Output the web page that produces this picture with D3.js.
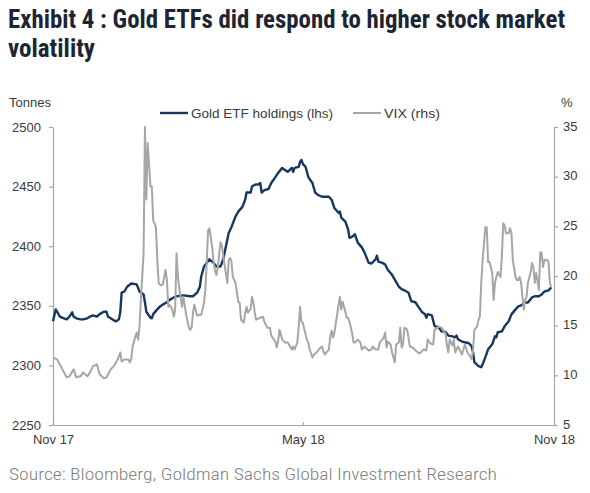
<!DOCTYPE html>
<html><head><meta charset="utf-8">
<script src="https://cdn.jsdelivr.net/npm/d3@7"></script>
<style>body{margin:0;background:#fff}svg{display:block}</style>
</head><body>
<svg id="chart" width="590" height="493"></svg>
<script>
// ---- DATA ----
const titleLines = ["Exhibit 4 : Gold ETFs did respond to higher stock market", "volatility"];
const sourceText = "Source: Bloomberg, Goldman Sachs Global Investment Research";
const seriesNames = ["Gold ETF holdings (lhs)", "VIX (rhs)"];
const leftAxisTitle = "Tonnes";
const rightAxisTitle = "%";
const leftTicks = [2250, 2300, 2350, 2400, 2450, 2500];
const rightTicks = [5, 10, 15, 20, 25, 30, 35];
const xTickDates = ["2017-11-30", "2018-05-31", "2018-11-30"];
const xTickLabels = ["Nov 17", "May 18", "Nov 18"];

const goldEtf = [
["2017-11-30",2337],["2017-12-02",2347],["2017-12-03",2345],["2017-12-05",2341],["2017-12-08",2339.5],
["2017-12-10",2338.6],["2017-12-12",2341],["2017-12-14",2344.5],["2017-12-15",2341],["2017-12-17",2339.5],
["2017-12-20",2338.6],["2017-12-22",2338.6],["2017-12-25",2339.5],["2017-12-27",2341],["2017-12-29",2342],
["2018-01-01",2341],["2018-01-03",2343],["2018-01-06",2345],["2018-01-08",2345],["2018-01-09",2341],
["2018-01-11",2339.5],["2018-01-13",2338],["2018-01-15",2337],["2018-01-17",2338.6],["2018-01-18",2344.5],
["2018-01-19",2361],["2018-01-21",2362],["2018-01-23",2366],["2018-01-26",2368.7],["2018-01-30",2368],
["2018-02-01",2362],["2018-02-04",2359.5],["2018-02-05",2352.8],["2018-02-06",2345],["2018-02-09",2340],
["2018-02-10",2339.5],["2018-02-11",2343],["2018-02-14",2347],["2018-02-16",2349.5],["2018-02-18",2351],
["2018-02-21",2353],["2018-02-23",2355],["2018-02-26",2357],["2018-02-28",2358],["2018-03-05",2358.7],
["2018-03-10",2358],["2018-03-12",2358],["2018-03-15",2361],["2018-03-17",2366],["2018-03-18",2374.6],
["2018-03-20",2383],["2018-03-22",2386],["2018-03-24",2389],["2018-03-27",2386],["2018-03-29",2383],
["2018-04-01",2383],["2018-04-03",2389],["2018-04-04",2394.6],["2018-04-07",2411],["2018-04-09",2416],
["2018-04-12",2425],["2018-04-14",2429],["2018-04-17",2433],["2018-04-19",2439],["2018-04-20",2445],
["2018-04-23",2445],["2018-04-24",2450],["2018-04-26",2451.5],["2018-04-29",2452],["2018-04-30",2453],
["2018-05-01",2445],["2018-05-03",2447],["2018-05-06",2448],["2018-05-08",2453],["2018-05-11",2458],
["2018-05-13",2461.5],["2018-05-16",2465.7],["2018-05-18",2464],["2018-05-20",2462.4],["2018-05-23",2465.7],
["2018-05-24",2462.4],["2018-05-25",2465.7],["2018-05-28",2466.6],["2018-05-29",2470.7],["2018-05-30",2472.4],
["2018-05-31",2469],["2018-06-02",2466.6],["2018-06-04",2458],["2018-06-07",2453],["2018-06-09",2445],
["2018-06-11",2443],["2018-06-14",2441.5],["2018-06-16",2441.5],["2018-06-19",2441.5],["2018-06-21",2439],
["2018-06-23",2432],["2018-06-26",2428],["2018-06-27",2429],["2018-06-28",2424],["2018-07-01",2420.6],
["2018-07-03",2414],["2018-07-04",2407],["2018-07-06",2408],["2018-07-08",2410],["2018-07-10",2403],
["2018-07-13",2399],["2018-07-15",2394.6],["2018-07-18",2386],["2018-07-20",2385.5],["2018-07-23",2389],
["2018-07-24",2392],["2018-07-25",2387],["2018-07-28",2386],["2018-07-30",2384.6],["2018-08-01",2380],
["2018-08-04",2376],["2018-08-06",2372],["2018-08-09",2366],["2018-08-11",2364],["2018-08-13",2363],
["2018-08-16",2361],["2018-08-18",2354],["2018-08-21",2353],["2018-08-23",2349.5],["2018-08-26",2344.5],
["2018-08-28",2343],["2018-08-29",2340],["2018-08-30",2343],["2018-09-02",2342],["2018-09-04",2333],
["2018-09-07",2332],["2018-09-09",2328.6],["2018-09-12",2328],["2018-09-14",2325],["2018-09-17",2324.4],
["2018-09-19",2323.6],["2018-09-20",2325],["2018-09-21",2322],["2018-09-24",2320],["2018-09-26",2319.4],
["2018-09-29",2318.6],["2018-10-01",2316],["2018-10-02",2311],["2018-10-03",2302.7],["2018-10-06",2299.3],
["2018-10-08",2298.5],["2018-10-09",2301],["2018-10-11",2307],["2018-10-13",2313.5],["2018-10-16",2317.7],
["2018-10-18",2324.4],["2018-10-19",2323.6],["2018-10-20",2327.8],["2018-10-23",2328.6],["2018-10-25",2332.8],
["2018-10-28",2337],["2018-10-30",2342.8],["2018-11-02",2347],["2018-11-04",2349.5],["2018-11-06",2350.3],
["2018-11-09",2352.8],["2018-11-11",2352.8],["2018-11-14",2357],["2018-11-16",2358],["2018-11-19",2358],
["2018-11-21",2359.5],["2018-11-23",2362],["2018-11-26",2363],["2018-11-28",2365.4]
];

const vix = [
["2017-11-30",11.8],["2017-12-03",11.6],["2017-12-05",11.1],["2017-12-08",10.3],["2017-12-10",9.8],
["2017-12-12",9.9],["2017-12-15",10.6],["2017-12-17",9.8],["2017-12-20",9.9],["2017-12-22",10.3],
["2017-12-25",9.9],["2017-12-27",10.3],["2017-12-29",10.9],["2018-01-01",11.1],["2018-01-03",10.1],
["2018-01-06",9.7],["2018-01-08",9.8],["2018-01-11",10.6],["2018-01-13",10.9],["2018-01-15",11.3],
["2018-01-17",11.9],["2018-01-18",12.3],["2018-01-19",11.4],["2018-01-21",11.6],["2018-01-24",11.6],
["2018-01-25",11.3],["2018-01-26",11.6],["2018-01-27",12.9],["2018-01-29",13.9],["2018-01-30",14.3],
["2018-01-31",13.6],["2018-02-01",14.9],["2018-02-02",17.6],["2018-02-04",22.3],["2018-02-05",35.0],
["2018-02-06",27.7],["2018-02-07",33.4],["2018-02-09",29.0],["2018-02-10",29.0],["2018-02-11",25.6],
["2018-02-12",25.3],["2018-02-13",24.9],["2018-02-14",21.6],["2018-02-15",19.3],["2018-02-16",19.1],
["2018-02-18",19.1],["2018-02-20",20.6],["2018-02-21",19.6],["2018-02-22",16.9],["2018-02-23",17.1],
["2018-02-25",16.6],["2018-02-26",15.9],["2018-02-27",16.6],["2018-02-28",22.3],["2018-03-01",19.9],
["2018-03-02",18.8],["2018-03-04",16.9],["2018-03-05",17.9],["2018-03-07",16.1],["2018-03-09",14.8],
["2018-03-10",14.6],["2018-03-11",14.8],["2018-03-12",16.3],["2018-03-13",17.1],["2018-03-15",16.0],
["2018-03-16",16.1],["2018-03-18",16.1],["2018-03-20",17.3],["2018-03-21",18.6],["2018-03-22",21.4],
["2018-03-23",24.6],["2018-03-24",24.8],["2018-03-26",22.9],["2018-03-27",21.4],["2018-03-28",20.6],
["2018-03-29",20.1],["2018-03-30",20.8],["2018-04-01",23.4],["2018-04-02",23.1],["2018-04-03",22.1],
["2018-04-04",21.1],["2018-04-06",19.3],["2018-04-07",21.6],["2018-04-08",21.8],["2018-04-09",21.5],
["2018-04-10",19.9],["2018-04-12",19.3],["2018-04-14",17.4],["2018-04-15",17.3],["2018-04-16",15.6],
["2018-04-18",15.3],["2018-04-19",16.3],["2018-04-20",16.9],["2018-04-21",16.3],["2018-04-23",16.7],
["2018-04-24",17.9],["2018-04-25",17.3],["2018-04-26",16.3],["2018-04-27",15.6],["2018-04-30",15.8],
["2018-05-02",15.9],["2018-05-03",15.4],["2018-05-05",14.8],["2018-05-07",14.8],["2018-05-08",14.0],
["2018-05-11",13.4],["2018-05-12",12.8],["2018-05-13",13.4],["2018-05-14",14.6],["2018-05-16",13.6],
["2018-05-18",13.3],["2018-05-20",13.3],["2018-05-23",12.6],["2018-05-24",12.9],["2018-05-25",12.6],
["2018-05-27",13.3],["2018-05-28",14.9],["2018-05-29",16.9],["2018-05-30",15.4],["2018-05-31",15.3],
["2018-06-02",14.1],["2018-06-03",13.6],["2018-06-04",13.3],["2018-06-05",12.6],["2018-06-07",11.8],
["2018-06-08",12.1],["2018-06-10",12.3],["2018-06-11",12.5],["2018-06-13",12.8],["2018-06-14",12.9],
["2018-06-15",12.4],["2018-06-16",12.1],["2018-06-19",12.6],["2018-06-20",13.9],["2018-06-21",14.5],
["2018-06-22",13.8],["2018-06-23",14.3],["2018-06-25",16.1],["2018-06-26",17.1],["2018-06-27",17.9],
["2018-06-28",16.6],["2018-06-29",17.4],["2018-07-01",16.4],["2018-07-02",15.8],["2018-07-03",15.8],
["2018-07-04",15.4],["2018-07-06",14.2],["2018-07-07",13.3],["2018-07-08",13.3],["2018-07-10",13.6],
["2018-07-12",13.3],["2018-07-13",12.6],["2018-07-15",12.9],["2018-07-18",12.5],["2018-07-20",12.6],
["2018-07-21",12.9],["2018-07-23",12.6],["2018-07-25",12.6],["2018-07-26",13.3],["2018-07-29",13.8],
["2018-07-30",14.3],["2018-07-31",12.8],["2018-08-01",13.4],["2018-08-03",13.1],["2018-08-04",12.3],
["2018-08-05",11.8],["2018-08-06",11.3],["2018-08-07",13.1],["2018-08-09",13.3],["2018-08-10",14.8],
["2018-08-11",12.8],["2018-08-12",13.1],["2018-08-13",14.8],["2018-08-15",14.6],["2018-08-16",13.8],
["2018-08-17",12.9],["2018-08-19",12.8],["2018-08-22",12.4],["2018-08-24",12.2],["2018-08-27",12.6],
["2018-08-29",12.5],["2018-08-30",13.6],["2018-09-01",13.2],["2018-09-03",13.1],["2018-09-04",14.6],
["2018-09-07",14.9],["2018-09-09",14.8],["2018-09-12",14.2],["2018-09-13",13.0],["2018-09-14",12.3],
["2018-09-15",13.6],["2018-09-17",13.0],["2018-09-18",13.6],["2018-09-19",12.3],["2018-09-21",12.9],
["2018-09-24",12.1],["2018-09-26",13.1],["2018-09-28",12.3],["2018-09-30",11.9],["2018-10-01",11.6],
["2018-10-02",12.4],["2018-10-03",14.6],["2018-10-05",14.9],["2018-10-06",15.6],["2018-10-07",15.9],
["2018-10-08",19.3],["2018-10-09",21.6],["2018-10-11",24.9],["2018-10-12",24.9],["2018-10-13",21.4],
["2018-10-14",21.4],["2018-10-16",20.3],["2018-10-17",17.6],["2018-10-18",19.3],["2018-10-19",19.9],
["2018-10-20",20.4],["2018-10-22",19.9],["2018-10-23",21.9],["2018-10-24",25.3],["2018-10-25",25.1],
["2018-10-26",24.3],["2018-10-28",24.3],["2018-10-29",24.8],["2018-10-30",24.3],["2018-10-31",21.6],
["2018-11-02",19.9],["2018-11-03",19.6],["2018-11-04",19.6],["2018-11-05",19.9],["2018-11-06",19.3],
["2018-11-08",16.6],["2018-11-09",17.6],["2018-11-10",17.9],["2018-11-11",19.3],["2018-11-13",20.4],
["2018-11-14",21.3],["2018-11-15",20.9],["2018-11-16",19.3],["2018-11-17",20.3],["2018-11-19",18.6],
["2018-11-20",22.4],["2018-11-21",22.3],["2018-11-22",20.9],["2018-11-23",21.6],["2018-11-25",21.6],
["2018-11-26",21.4],["2018-11-27",19.3],["2018-11-28",18.9]
];

// ---- CHART ----
const parse = d3.timeParse("%Y-%m-%d");
const svg = d3.select("#chart");
const plot = {left: 53, right: 554, top: 127, bottom: 425};

const x = d3.scaleTime()
  .domain([parse(xTickDates[0]), parse(xTickDates[xTickDates.length - 1])])
  .range([plot.left, plot.right]);
const yL = d3.scaleLinear().domain([leftTicks[0], leftTicks[leftTicks.length - 1]]).range([plot.bottom, plot.top]);
const yR = d3.scaleLinear().domain([rightTicks[0], rightTicks[rightTicks.length - 1]]).range([plot.bottom, plot.top]);

const axisColor = "#a6a6a6";
const textColor = "#3a3a3a";
const fontFam = "'Liberation Sans', Arial, sans-serif";
const fs = 13;

// Title
const condensed = "'Roboto Condensed','Liberation Sans Narrow','Roboto',sans-serif";
svg.append("text").attr("x", 8).attr("y", 28)
  .attr("font-family", condensed).attr("font-weight", "bold").attr("font-size", 26)
  .attr("fill", "#1c2533").attr("textLength", 557).attr("lengthAdjust", "spacingAndGlyphs")
  .text(titleLines[0]);
svg.append("text").attr("x", 8).attr("y", 57)
  .attr("font-family", condensed).attr("font-weight", "bold").attr("font-size", 26)
  .attr("fill", "#1c2533").attr("textLength", 87).attr("lengthAdjust", "spacingAndGlyphs")
  .text(titleLines[1]);

// Axis titles
svg.append("text").attr("x", 9).attr("y", 107).attr("font-family", fontFam).attr("font-size", fs)
  .attr("fill", textColor).text(leftAxisTitle);
svg.append("text").attr("x", 561).attr("y", 107).attr("font-family", fontFam).attr("font-size", fs)
  .attr("fill", textColor).text(rightAxisTitle);

// Axes
function styleAxis(g) {
  g.selectAll("path.domain").attr("stroke", axisColor).attr("stroke-width", 1.2);
  g.selectAll(".tick line").attr("stroke", axisColor).attr("stroke-width", 1.2);
  g.selectAll(".tick text").attr("fill", textColor).attr("font-family", fontFam).attr("font-size", fs);
}
const gL = svg.append("g").attr("transform", `translate(${plot.left},0)`)
  .call(d3.axisLeft(yL).tickValues(leftTicks).tickSizeInner(4).tickSizeOuter(0).tickPadding(8).tickFormat(d3.format("d")));
styleAxis(gL);
const gR = svg.append("g").attr("transform", `translate(${plot.right},0)`)
  .call(d3.axisRight(yR).tickValues(rightTicks).tickSizeInner(4).tickSizeOuter(0).tickPadding(5).tickFormat(d3.format("d")));
styleAxis(gR);
gR.selectAll(".tick text").attr("dy", "0.25em");
const gB = svg.append("g").attr("transform", `translate(0,${plot.bottom})`)
  .call(d3.axisBottom(x).tickValues(xTickDates.map(parse)).tickSizeInner(-3).tickSizeOuter(0).tickPadding(10)
    .tickFormat((d, i) => xTickLabels[i]));
styleAxis(gB);

// Lines
const lineL = d3.line().x(d => x(parse(d[0]))).y(d => yL(d[1]));
const lineR = d3.line().x(d => x(parse(d[0]))).y(d => yR(d[1]));
const blue = "#17375e", grey = "#a6a6a6";
svg.append("path").datum(goldEtf).attr("d", lineL).attr("fill", "none")
  .attr("stroke", blue).attr("stroke-width", 2.4).attr("stroke-linejoin", "round");
svg.append("path").datum(vix).attr("d", lineR).attr("fill", "none")
  .attr("stroke", grey).attr("stroke-width", 2).attr("stroke-linejoin", "round");

// Legend
const leg = svg.append("g").attr("font-family", fontFam).attr("font-size", fs).attr("fill", textColor);
leg.append("line").attr("x1", 160).attr("x2", 188).attr("y1", 113).attr("y2", 113).attr("stroke", blue).attr("stroke-width", 2.4);
leg.append("text").attr("x", 191).attr("y", 117.5).attr("textLength", 142).attr("lengthAdjust", "spacingAndGlyphs").text(seriesNames[0]);
leg.append("line").attr("x1", 353).attr("x2", 381).attr("y1", 113).attr("y2", 113).attr("stroke", grey).attr("stroke-width", 2);
leg.append("text").attr("x", 384).attr("y", 117.5).attr("textLength", 56).attr("lengthAdjust", "spacingAndGlyphs").text(seriesNames[1]);

// Source
svg.append("text").attr("x", 9).attr("y", 480)
  .attr("font-family", condensed).attr("font-weight", 300).attr("font-size", 17)
  .attr("fill", "#7f7f7f").attr("textLength", 488).attr("lengthAdjust", "spacingAndGlyphs")
  .text(sourceText);
</script>
</body></html>
